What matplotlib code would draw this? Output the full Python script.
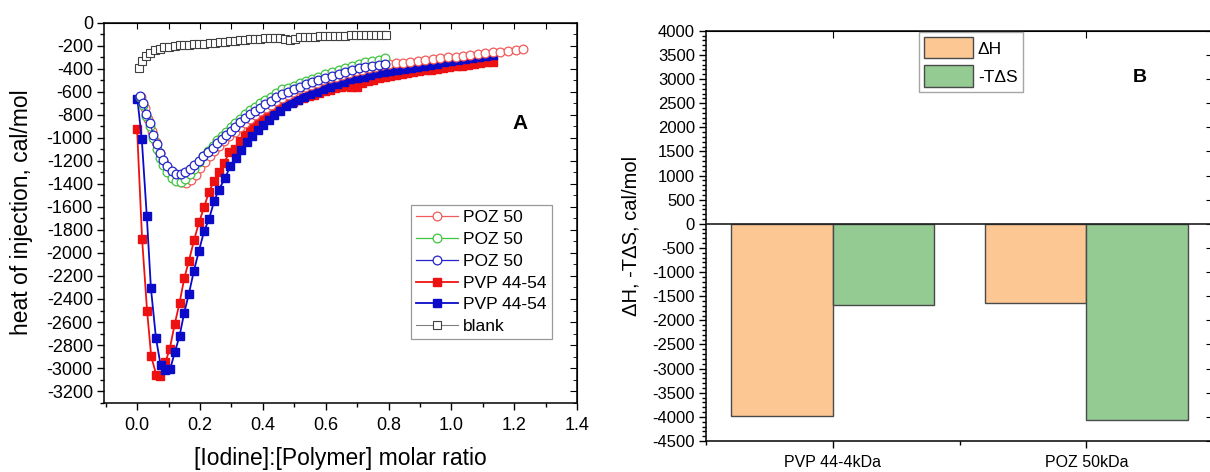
import numpy as np
import matplotlib
matplotlib.use('Agg')
import matplotlib.pyplot as plt
from matplotlib.ticker import MultipleLocator

plt.rcParams['font.family'] = ['Liberation Sans', 'DejaVu Sans']
plt.rcParams['axes.unicode_minus'] = False

# ---- panel A data ----
poz_red_x = [0.012, 0.024, 0.036, 0.048, 0.060, 0.072, 0.085, 0.098, 0.112, 0.126,
             0.141, 0.156, 0.171, 0.186, 0.201, 0.216, 0.231, 0.246, 0.262, 0.278,
             0.294, 0.310, 0.326, 0.342, 0.358, 0.375, 0.392, 0.409, 0.426, 0.443,
             0.461, 0.479, 0.497, 0.516, 0.535, 0.554, 0.573, 0.593, 0.613, 0.633,
             0.653, 0.674, 0.695, 0.716, 0.737, 0.758, 0.779, 0.801, 0.823, 0.846,
             0.869, 0.894, 0.917, 0.942, 0.965, 0.989, 1.013, 1.037, 1.060, 1.084,
             1.108, 1.133, 1.156, 1.180, 1.204, 1.228]
poz_red_y = [-650, -740, -840, -940, -1040, -1130, -1215, -1285, -1335, -1368,
             -1386, -1390, -1365, -1320, -1265, -1210, -1160, -1115, -1070, -1028,
             -988, -948, -908, -870, -834, -800, -770, -740, -711, -682,
             -652, -626, -602, -580, -558, -538, -520, -502, -484, -468,
             -452, -436, -421, -407, -394, -382, -372, -362, -354, -347,
             -338, -330, -324, -318, -309, -301, -295, -286, -280, -274,
             -266, -257, -251, -245, -237, -228]

poz_x = [0.008, 0.019, 0.030, 0.041, 0.052, 0.063, 0.073, 0.084, 0.096, 0.110,
         0.124, 0.139, 0.153, 0.169, 0.182, 0.197, 0.211, 0.225, 0.240, 0.254,
         0.270, 0.283, 0.298, 0.313, 0.328, 0.344, 0.360, 0.376, 0.392, 0.408,
         0.426, 0.443, 0.461, 0.479, 0.498, 0.517, 0.537, 0.556, 0.577, 0.599,
         0.620, 0.641, 0.662, 0.684, 0.705, 0.726, 0.748, 0.769, 0.790]
poz_green_y = [-645, -712, -808, -900, -1005, -1095, -1175, -1240, -1300, -1345,
               -1372, -1380, -1360, -1315, -1268, -1210, -1160, -1112, -1068, -1022,
               -982, -946, -910, -872, -835, -797, -762, -732, -702, -672,
               -642, -612, -575, -568, -552, -528, -505, -486, -468, -450,
               -428, -412, -392, -374, -360, -346, -334, -322, -310]
poz_blue_y = [-640, -700, -790, -873, -974, -1055, -1133, -1191, -1249, -1292,
              -1312, -1315, -1297, -1269, -1234, -1199, -1162, -1124, -1089, -1046,
              -1009, -974, -939, -902, -867, -829, -795, -766, -737, -708,
              -679, -650, -621, -598, -578, -555, -534, -517, -500, -482,
              -460, -448, -430, -410, -396, -382, -373, -367, -361]

pvp_red_x = [0.000, 0.016, 0.032, 0.045, 0.061, 0.074, 0.090, 0.104, 0.120, 0.135,
             0.150, 0.165, 0.181, 0.197, 0.213, 0.228, 0.245, 0.261, 0.277, 0.294,
             0.310, 0.326, 0.344, 0.360, 0.376, 0.392, 0.408, 0.426, 0.445, 0.461,
             0.478, 0.495, 0.512, 0.529, 0.546, 0.563, 0.580, 0.597, 0.614, 0.631,
             0.648, 0.665, 0.682, 0.699, 0.716, 0.734, 0.752, 0.770, 0.788, 0.806,
             0.824, 0.842, 0.860, 0.879, 0.898, 0.917, 0.936, 0.955, 0.974, 0.993,
             1.013, 1.033, 1.053, 1.072, 1.092, 1.112, 1.131]
pvp_red_y = [-925, -1880, -2508, -2899, -3058, -3067, -2951, -2832, -2615, -2436,
             -2222, -2068, -1892, -1735, -1605, -1475, -1373, -1298, -1220, -1120,
             -1095, -1026, -974, -916, -873, -829, -786, -757, -720, -712,
             -700, -688, -672, -656, -640, -624, -609, -595, -582, -570,
             -560, -553, -562, -558, -522, -506, -494, -484, -474, -464,
             -455, -447, -439, -431, -423, -415, -408, -401, -394, -387,
             -380, -373, -366, -359, -352, -345, -338]

pvp_blue_x = [0.001, 0.015, 0.031, 0.044, 0.060, 0.075, 0.090, 0.105, 0.120, 0.135,
              0.150, 0.165, 0.181, 0.197, 0.213, 0.229, 0.245, 0.260, 0.280, 0.296,
              0.314, 0.331, 0.349, 0.367, 0.384, 0.402, 0.420, 0.437, 0.455, 0.474,
              0.493, 0.512, 0.532, 0.551, 0.572, 0.593, 0.615, 0.636, 0.657, 0.678,
              0.700, 0.721, 0.742, 0.763, 0.784, 0.806, 0.827, 0.848, 0.870, 0.891,
              0.912, 0.933, 0.955, 0.976, 0.998, 1.020, 1.042, 1.064, 1.087, 1.110,
              1.133]
pvp_blue_y = [-662, -1012, -1683, -2304, -2737, -2977, -3018, -3012, -2862, -2723,
              -2520, -2353, -2153, -1980, -1813, -1705, -1552, -1451, -1350, -1249,
              -1176, -1104, -1037, -983, -931, -887, -844, -800, -766, -728,
              -699, -670, -642, -618, -598, -575, -555, -534, -512, -488,
              -482, -468, -454, -439, -430, -419, -410, -402, -393, -384,
              -376, -365, -355, -345, -336, -326, -316, -306, -297, -292,
              -280]

blank_x = [0.006, 0.017, 0.028, 0.040, 0.056, 0.072, 0.087, 0.103, 0.120, 0.135,
           0.150, 0.166, 0.182, 0.198, 0.214, 0.231, 0.247, 0.263, 0.279, 0.295,
           0.311, 0.327, 0.343, 0.359, 0.375, 0.391, 0.407, 0.423, 0.439, 0.455,
           0.471, 0.487, 0.503, 0.519, 0.535, 0.551, 0.567, 0.583, 0.599, 0.615,
           0.631, 0.647, 0.663, 0.679, 0.695, 0.711, 0.727, 0.743, 0.759, 0.775,
           0.791]
blank_y = [-390, -332, -289, -260, -240, -225, -215, -210, -202, -198,
           -194, -190, -188, -185, -182, -176, -174, -171, -165, -159,
           -155, -150, -148, -145, -143, -139, -137, -136, -133, -130,
           -140, -153, -139, -128, -124, -122, -121, -118, -117, -116,
           -114, -113, -112, -111, -110, -110, -108, -107, -107, -106,
           -103]

# ---- panel B data ----
polymers = ['PVP 44-4kDa', 'POZ 50kDa']
dH = [-3980, -1635]
mTdS = [-1680, -4075]

fig = plt.figure(figsize=(12.1, 4.72), dpi=100)

# ================= panel A =================
ax1 = fig.add_axes([0.086, 0.147, 0.391, 0.805])

ax1.plot(pvp_red_x, pvp_red_y, '-', color='#ee1111', lw=1.3, marker='s', ms=5.8,
         mfc='#ee1111', mec='#ee1111', label='PVP 44-54', zorder=3)
ax1.plot(pvp_blue_x, pvp_blue_y, '-', color='#0a0ac8', lw=1.3, marker='s', ms=5.8,
         mfc='#0a0ac8', mec='#0a0ac8', label='PVP 44-54', zorder=3)
ax1.plot(poz_red_x, poz_red_y, '-', color='#f05a5a', lw=0.9, marker='o', ms=6.3,
         mfc='white', mec='#f05a5a', mew=0.9, label='POZ 50', zorder=4)
ax1.plot(poz_x, poz_green_y, '-', color='#3fc43f', lw=0.9, marker='o', ms=6.3,
         mfc='white', mec='#3fc43f', mew=0.9, label='POZ 50', zorder=5)
ax1.plot(poz_x, poz_blue_y, '-', color='#2424c8', lw=0.9, marker='o', ms=6.3,
         mfc='white', mec='#2424c8', mew=0.9, label='POZ 50', zorder=6)
ax1.plot(blank_x, blank_y, '-', color='#808080', lw=0.8, marker='s', ms=6,
         mfc='white', mec='#404040', mew=0.8, label='blank', zorder=7)

ax1.set_xlim(-0.105, 1.40)
ax1.set_ylim(-3300, 0)
ax1.set_xticks(np.arange(0, 1.41, 0.2))
ax1.set_xticklabels(['0.0', '0.2', '0.4', '0.6', '0.8', '1.0', '1.2', '1.4'])
ax1.xaxis.set_minor_locator(MultipleLocator(0.1))
ax1.set_yticks(np.arange(-3200, 1, 200))
ax1.yaxis.set_minor_locator(MultipleLocator(100))
ax1.tick_params(which='major', direction='out', length=5, width=1, labelsize=13, pad=3)
ax1.tick_params(axis='x', which='major', pad=5)
ax1.tick_params(which='minor', direction='out', length=3, width=1)
for s in ax1.spines.values():
    s.set_linewidth(1.1)

top1 = ax1.secondary_xaxis('top')
top1.set_xticks(np.arange(0, 1.41, 0.1))
top1.tick_params(direction='in', length=4, labeltop=False)
right1 = ax1.secondary_yaxis('right')
right1.set_yticks(np.arange(-3200, 1, 200))
right1.yaxis.set_minor_locator(MultipleLocator(100))
right1.tick_params(which='major', direction='in', length=5, labelright=False)
right1.tick_params(which='minor', direction='in', length=3)

ax1.set_xlabel('[Iodine]:[Polymer] molar ratio', fontsize=16.5)
ax1.xaxis.set_label_coords(0.5, -0.118)
ax1.set_ylabel('heat of injection, cal/mol', fontsize=16.5)
ax1.yaxis.set_label_coords(-0.15, 0.5)
ax1.text(0.88, 0.735, 'A', transform=ax1.transAxes, fontsize=15,
         fontweight='bold', ha='center', va='center')

h, l = ax1.get_legend_handles_labels()
order = [2, 3, 4, 0, 1, 5]
leg1 = ax1.legend([h[i] for i in order], [l[i] for i in order],
                  loc='upper left', bbox_to_anchor=(0.649, 0.52), borderaxespad=0,
                  fontsize=12.5, frameon=True, fancybox=False, edgecolor='#808080',
                  handlelength=2.4, handletextpad=0.3, labelspacing=0.38,
                  borderpad=0.3)
leg1.get_frame().set_linewidth(0.9)

# ================= panel B =================
ax2 = fig.add_axes([0.5835, 0.0657, 0.419, 0.869])
pos = np.arange(1, len(polymers) + 1)
ax2.bar(pos - 0.2, dH, width=0.4, color='#fdc793', edgecolor='#4a4a4a',
        linewidth=1, label='ΔH', zorder=2)
ax2.bar(pos + 0.2, mTdS, width=0.4, color='#93cb93', edgecolor='#4a4a4a',
        linewidth=1, label='-TΔS', zorder=2)
ax2.axhline(0, color='#202020', lw=1.2, zorder=3)

ax2.set_xlim(0.5, 2.5)
ax2.set_ylim(-4500, 4000)
ax2.set_xticks(pos)
ax2.set_xticklabels(polymers)
ax2.xaxis.set_minor_locator(MultipleLocator(0.5))
ax2.set_yticks(np.arange(-4500, 4001, 500))
ax2.yaxis.set_minor_locator(MultipleLocator(100))
ax2.tick_params(which='major', direction='out', length=5, width=1, labelsize=12, pad=3)
ax2.tick_params(axis='x', which='major', labelsize=11.5, pad=5)
ax2.tick_params(which='minor', direction='out', length=3, width=1)
for s in ax2.spines.values():
    s.set_linewidth(1.1)

top2 = ax2.secondary_xaxis('top')
top2.set_xticks(pos)
top2.tick_params(direction='in', length=5, labeltop=False)
right2 = ax2.secondary_yaxis('right')
right2.set_yticks(np.arange(-4500, 4001, 500))
right2.tick_params(direction='in', length=5, labelright=False)

ax2.set_ylabel('ΔH, -TΔS, cal/mol', fontsize=14.5)
ax2.yaxis.set_label_coords(-0.13, 0.5)
ax2.text(0.856, 0.885, 'B', transform=ax2.transAxes, fontsize=14,
         fontweight='bold', ha='center', va='center')

leg2 = ax2.legend(loc='upper left', bbox_to_anchor=(0.42, 0.997), borderaxespad=0,
                  fontsize=12.5, frameon=True, fancybox=False, edgecolor='#909090',
                  handlelength=2.8, handleheight=1.5, handletextpad=0.3,
                  labelspacing=0.4, borderpad=0.3)
leg2.get_frame().set_linewidth(1)

fig.savefig('out.png', dpi=100)
